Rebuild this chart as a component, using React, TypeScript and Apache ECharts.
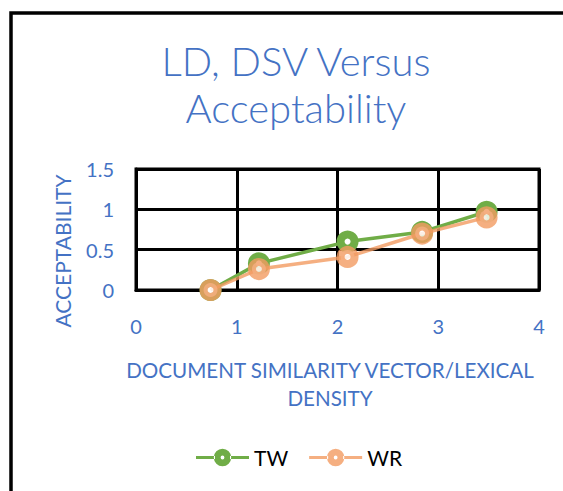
import React, { useEffect, useRef } from "react";
import * as echarts from "echarts";

const titleLines = ["LD, DSV Versus", "Acceptability"];
const xAxisName = "DOCUMENT SIMILARITY VECTOR/LEXICAL\nDENSITY";
const yAxisName = "ACCEPTABILITY";
const seriesNames = ["TW", "WR"];
const xTW = [0.74, 1.22, 2.1, 2.84, 3.48];
const yTW = [0, 0.33, 0.6, 0.72, 0.97];
const xWR = [0.74, 1.22, 2.1, 2.84, 3.48];
const yWR = [0, 0.26, 0.41, 0.7, 0.9];

const BLUE = "#4472C4";
const GREEN = "#70AD47";
const ORANGE = "#F29B62";
const FONT = "Lato, 'Liberation Sans', sans-serif";

const LEGEND_ICON =
  "path://M0,8.5H19V11.5H0Z M34,8.5H53V11.5H34Z " +
  "M17.8,10A8.7,8.7 0 1,0 35.2,10A8.7,8.7 0 1,0 17.8,10Z " +
  "M24.6,10A1.9,1.9 0 1,1 28.4,10A1.9,1.9 0 1,1 24.6,10Z";

export default function App() {
  const ref = useRef<HTMLDivElement>(null);
  useEffect(() => {
    if (!ref.current) return;
    const chart = echarts.init(ref.current, null, { renderer: "svg" });
    const pts = (xs: number[], ys: number[]) => xs.map((x, i) => [x, ys[i]]);
    const mk = (name: string, color: string, data: number[][], z: number, op: number) => ({
      name,
      type: "line",
      data,
      z,
      symbol: "circle",
      symbolSize: 14,
      lineStyle: { color, width: 3.5, opacity: op },
      itemStyle: { color: "#ffffff", borderColor: color, borderWidth: 8, opacity: op },
      emphasis: { disabled: true },
    });
    chart.setOption({
      animation: false,
      backgroundColor: "#ffffff",
      textStyle: { fontFamily: FONT },
      title: {
        text: titleLines.join("\n"),
        left: 291,
        top: 32,
        textAlign: "center",
        textStyle: { color: BLUE, fontSize: 40, fontWeight: 300, lineHeight: 47, fontFamily: FONT },
      },
      grid: { left: 136, right: 24, top: 169, bottom: 201, show: true, borderColor: "#000", borderWidth: 3 },
      xAxis: {
        type: "value",
        min: 0,
        max: 4,
        interval: 1,
        axisLine: { show: true, lineStyle: { color: "#000", width: 3 } },
        axisTick: { show: false },
        splitLine: { show: true, lineStyle: { color: "#000", width: 3 } },
        axisLabel: { color: BLUE, fontSize: 20, margin: 26, fontFamily: FONT },
      },
      yAxis: {
        type: "value",
        min: 0,
        max: 1.5,
        interval: 0.5,
        axisLine: { show: true, lineStyle: { color: "#000", width: 3 } },
        axisTick: { show: false },
        splitLine: { show: true, lineStyle: { color: "#000", width: 3 } },
        axisLabel: { color: BLUE, fontSize: 20, margin: 22, fontFamily: FONT },
      },
      legend: {
        data: [
          { name: seriesNames[0], icon: LEGEND_ICON, itemStyle: { color: GREEN, borderWidth: 0, opacity: 1 } },
          { name: seriesNames[1], icon: LEGEND_ICON, itemStyle: { color: ORANGE, borderWidth: 0, opacity: 0.8 } },
        ],
        left: 196,
        top: 447,
        padding: 0,
        itemWidth: 53,
        itemHeight: 20,
        itemGap: 21,
        textStyle: { color: "#000", fontSize: 21, fontFamily: FONT },
      },
      graphic: [
        {
          type: "rect",
          shape: { x: 11, y: 13, width: 700, height: 700 },
          style: { fill: "none", stroke: "#000", lineWidth: 3.5 },
          silent: true,
        },
        {
          type: "text",
          x: 62,
          y: 251,
          rotation: Math.PI / 2,
          style: { text: yAxisName, fill: BLUE, fontSize: 21, fontFamily: FONT, align: "center", verticalAlign: "middle" },
        },
        {
          type: "text",
          x: 330,
          y: 384,
          style: { text: xAxisName, fill: BLUE, fontSize: 20.6, lineHeight: 28, fontFamily: FONT, align: "center", verticalAlign: "middle" },
        },
      ],
      series: [mk(seriesNames[0], GREEN, pts(xTW, yTW), 2, 1), mk(seriesNames[1], ORANGE, pts(xWR, yWR), 3, 0.8)],
    });
    return () => chart.dispose();
  }, []);
  return <div ref={ref} style={{ position: "absolute", left: 0, top: 0, width: 563, height: 491 }} />;
}
